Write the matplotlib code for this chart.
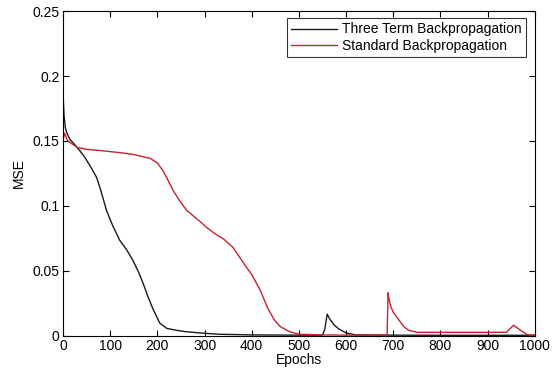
import matplotlib
matplotlib.use("Agg")
import matplotlib.pyplot as plt

plt.rcParams['font.family'] = ['Liberation Sans', 'DejaVu Sans']

three_epochs = [0, 2, 5, 8, 15, 30, 45, 57, 71, 80, 92, 105, 120, 135, 148, 160, 170, 180,
                190, 205, 220, 241, 260, 290, 330, 400, 500, 550, 555, 560, 565, 575, 585,
                600, 620, 700, 800, 900, 1000]
three_mse = [0.187, 0.170, 0.160, 0.156, 0.151, 0.145, 0.138, 0.131, 0.122, 0.112, 0.0965,
             0.085, 0.0735, 0.066, 0.058, 0.049, 0.040, 0.030, 0.021, 0.0096, 0.0055, 0.004,
             0.003, 0.002, 0.001, 0.0005, 0.0003, 0.0003, 0.005, 0.0165, 0.013, 0.008, 0.005,
             0.002, 0.0005, 0.0003, 0.0002, 0.0002, 0.0002]

std_epochs = [0, 3, 10, 30, 50, 80, 120, 150, 185, 200, 212, 222, 233, 247, 262, 290, 304,
              320, 340, 360, 375, 390, 400, 418, 434, 448, 460, 480, 500, 550, 600, 650, 687,
              689, 691, 695, 700, 712, 722, 733, 750, 800, 900, 940, 955, 970, 985, 1000]
std_mse = [0.150, 0.156, 0.150, 0.145, 0.1435, 0.1425, 0.1410, 0.1395, 0.1365, 0.133, 0.127,
           0.120, 0.112, 0.104, 0.0965, 0.088, 0.0835, 0.079, 0.0745, 0.068, 0.060, 0.052,
           0.047, 0.035, 0.021, 0.012, 0.007, 0.003, 0.001, 0.0005, 0.0003, 0.0003, 0.0003,
           0.033, 0.028, 0.022, 0.018, 0.012, 0.007, 0.004, 0.0025, 0.0025, 0.0025, 0.0025,
           0.008, 0.004, 0.0005, 0.0003]

labels = ['Three Term Backpropagation', 'Standard Backpropagation']
xticks = [0, 100, 200, 300, 400, 500, 600, 700, 800, 900, 1000]
yticks = [0, 0.05, 0.1, 0.15, 0.2, 0.25]
yticklabels = ['0', '0.05', '0.1', '0.15', '0.2', '0.25']

fs = 10
fig = plt.figure(figsize=(5.53, 3.72), dpi=100)
ax = fig.add_axes([0.114, 0.098, 0.853, 0.872])
ax.plot(three_epochs, three_mse, color='#1a1a1a', lw=1.0, label=labels[0])
ax.plot(std_epochs, std_mse, color='#c8202e', lw=1.0, label=labels[1])
ax.set_xlim(0, 1000)
ax.set_ylim(0, 0.25)
ax.set_xticks(xticks)
ax.set_yticks(yticks)
ax.set_yticklabels(yticklabels)
ax.tick_params(direction='in', top=True, right=True, labelsize=fs, length=4, width=0.8, pad=2.5)
for s in ax.spines.values():
    s.set_linewidth(0.8)
ax.set_xlabel('Epochs', fontsize=fs, labelpad=0)
ax.set_ylabel('MSE', fontsize=fs, labelpad=5)
leg = ax.legend(loc='upper right', fontsize=fs, frameon=True, fancybox=False,
                edgecolor='black', handlelength=3.3, handletextpad=0.35, borderpad=0.3,
                labelspacing=0.15, borderaxespad=0, bbox_to_anchor=(0.981, 0.978))
leg.get_frame().set_linewidth(0.8)
fig.savefig('out.png', dpi=100)
